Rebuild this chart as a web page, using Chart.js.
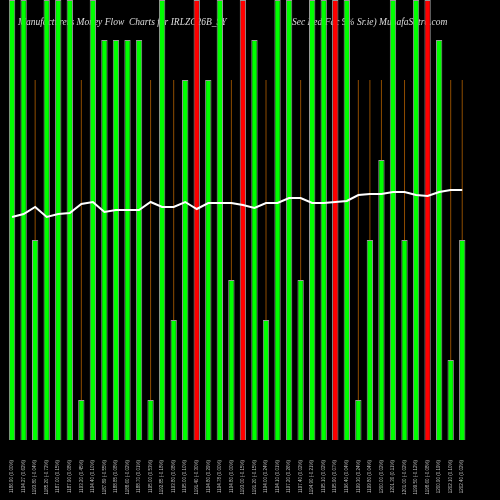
<!DOCTYPE html>
<html><head><style>html,body{margin:0;background:#000}#w{width:500px;height:500px}</style>
<script src="https://cdn.jsdelivr.net/npm/chart.js@4"></script></head>
<body><div id="w"><canvas id="c" width="500" height="500"></canvas></div>
<script>
const labels = ["1186.90 (0.00%)","1194.27 (0.62%)","1193.80 (-0.04%)","1185.20 (-0.72%)","1187.00 (0.15%)","1187.90 (0.08%)","1193.20 (0.45%)","1194.40 (0.10%)","1187.89 (-0.55%)","1188.85 (0.08%)","1188.60 (-0.02%)","1188.70 (0.01%)","1195.00 (0.53%)","1192.85 (-0.18%)","1193.80 (0.08%)","1195.00 (0.10%)","1191.40 (-0.30%)","1194.80 (0.29%)","1194.78 (0.00%)","1194.80 (0.00%)","1193.00 (-0.15%)","1191.20 (-0.15%)","1194.00 (0.24%)","1194.10 (0.01%)","1197.20 (0.26%)","1197.40 (0.02%)","1194.90 (-0.21%)","1195.10 (0.02%)","1195.90 (0.07%)","1196.40 (0.04%)","1199.30 (0.24%)","1199.80 (0.04%)","1200.00 (0.02%)","1201.30 (0.11%)","1201.00 (-0.02%)","1199.50 (-0.12%)","1198.60 (-0.08%)","1200.90 (0.19%)","1202.10 (0.10%)","1202.40 (0.02%)"];
const flow = [440,440,200,440,440,440,40,440,400,400,400,400,40,440,120,360,440,360,440,160,440,400,120,440,440,160,440,440,440,440,40,200,280,440,200,440,440,400,80,200];
const colorCodes = ["g","g","g","g","g","g","g","g","g","g","g","g","g","g","g","g","r","g","g","g","r","g","g","g","g","g","g","g","r","g","g","g","g","g","g","g","r","g","g","g"];
const priceLine = [223,226,233,223,226,227,236,238,228,230,230,230,238,233,233,238,231,237,237,237,235,232,237,237,242,242,237,237,238,239,245,246,246,248,248,245,244,248,250,250];
const capLevel = 360;
const wick = flow.map(v => v < capLevel ? [v, capLevel] : null);
const titlePlugin = {id:'t', beforeDatasetsDraw(ch){const c=ch.ctx;c.save();c.fillStyle='#ddd';c.font='italic 9.5px "Liberation Serif"';c.textBaseline='middle';
c.fillText('Manufacturers Money Flow  Charts for IRLZC26B_SY',18,22);c.fillText('Sec Red Fac 9% Sr.ie) MunafaSutra.com',292,22);c.restore();}};
new Chart(document.getElementById('c'),{
 data:{labels,datasets:[
  {type:'line',data:priceLine,borderColor:'#fff',borderWidth:2,pointRadius:0,tension:0,order:0},
  {type:'bar',data:wick,backgroundColor:'#8a4a00',barPercentage:0.09,categoryPercentage:1,grouped:false,order:2},
  {type:'bar',data:flow,backgroundColor:colorCodes.map(c=>c==='r'?'#ff0000':'#00ff00'),borderColor:'#999',borderWidth:1,barPercentage:0.55,categoryPercentage:1,grouped:false,order:1}
 ]},
 options:{responsive:false,animation:false,
  layout:{padding:{left:6,right:32,top:0,bottom:0}},
  plugins:{legend:{display:false},tooltip:{enabled:false}},
  scales:{
   x:{grid:{display:false},border:{display:false},ticks:{color:'#bbb',font:{size:4.5},minRotation:90,maxRotation:90,padding:12,autoSkip:false},
      afterFit(s){s.height=60;}},
   y:{min:0,max:440,display:false}
  }},
 plugins:[titlePlugin]
});
</script></body></html>
